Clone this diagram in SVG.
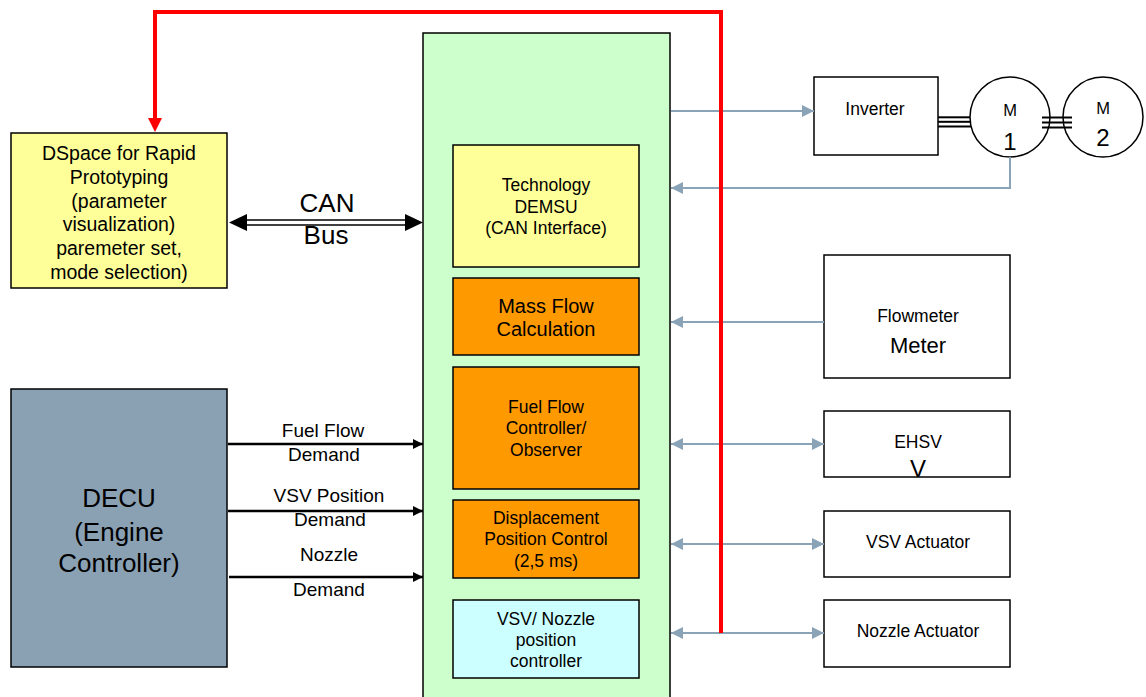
<svg xmlns="http://www.w3.org/2000/svg" width="1146" height="697" viewBox="0 0 1146 697">
<style>
  text { font-family: "Liberation Sans", Arial, sans-serif; fill: #000; text-anchor: middle; }
  .box { stroke: #000; stroke-width: 1.5; }
  .w { fill: #fff; }
  .y { fill: #FFFF99; }
  .o { fill: #FF9900; }
  .c { fill: #CCFFFF; }
  .g { fill: #CCFFCC; }
  .d { fill: #8AA0B3; }
  .gl { stroke: #8BA3B6; stroke-width: 2; fill: none; }
  .bl { stroke: #000; stroke-width: 2.5; fill: none; }
  .red { stroke: #FF0000; stroke-width: 4; fill: none; }
  .s { font-size: 17.5px; }
  .ds { font-size: 19.5px; }
  .lb { font-size: 19px; }
  .big { font-size: 26px; }
</style>
<defs>
  <marker id="ga" viewBox="0 0 12 12" refX="12" refY="6" markerWidth="12" markerHeight="12" markerUnits="userSpaceOnUse" orient="auto-start-reverse">
    <path d="M0,0 L12,6 L0,12 Z" fill="#8BA3B6"/>
  </marker>
  <marker id="ba" viewBox="0 0 10 10" refX="10" refY="5" markerWidth="10" markerHeight="10" markerUnits="userSpaceOnUse" orient="auto">
    <path d="M0,0 L10,5 L0,10 Z" fill="#000"/>
  </marker>
</defs>
<rect width="1146" height="697" fill="#fff"/>

<g id="main-module">
  <rect class="box g" x="423" y="33" width="247" height="680"/>
</g>

<g id="dspace">
  <rect class="box y" x="11" y="133" width="216" height="155"/>
  <text class="ds" x="119" y="160">DSpace for Rapid</text>
  <text class="ds" x="119" y="184">Prototyping</text>
  <text class="ds" x="119" y="208">(parameter</text>
  <text class="ds" x="119" y="231">visualization)</text>
  <text class="ds" x="119" y="255">paremeter set,</text>
  <text class="ds" x="119" y="279">mode selection)</text>
</g>

<g id="decu">
  <rect class="box d" x="11" y="389" width="216" height="278"/>
  <text class="big" x="119" y="507">DECU</text>
  <text class="big" x="119" y="541">(Engine</text>
  <text class="big" x="119" y="572">Controller)</text>
</g>

<g id="technology">
  <rect class="box y" x="453" y="145" width="186" height="122"/>
  <text class="s" x="546" y="191">Technology</text>
  <text class="s" x="546" y="213">DEMSU</text>
  <text class="s" x="546" y="234">(CAN Interface)</text>
</g>

<g id="mass-flow">
  <rect class="box o" x="453" y="278" width="186" height="77"/>
  <text font-size="20" x="546" y="313">Mass Flow</text>
  <text font-size="20" x="546" y="336">Calculation</text>
</g>

<g id="fuel-flow">
  <rect class="box o" x="453" y="367" width="186" height="122"/>
  <text class="s" x="546" y="413">Fuel Flow</text>
  <text class="s" x="546" y="434">Controller/</text>
  <text class="s" x="546" y="456">Observer</text>
</g>

<g id="displacement">
  <rect class="box o" x="453" y="500" width="186" height="78"/>
  <text class="s" x="546" y="524">Displacement</text>
  <text class="s" x="546" y="545">Position Control</text>
  <text class="s" x="546" y="567">(2,5 ms)</text>
</g>

<g id="vsv-nozzle">
  <rect class="box c" x="453" y="600" width="186" height="78"/>
  <text class="s" x="546" y="625">VSV/ Nozzle</text>
  <text class="s" x="546" y="646">position</text>
  <text class="s" x="546" y="667">controller</text>
</g>

<g id="inverter">
  <rect class="box w" x="814" y="77" width="124" height="78"/>
  <text class="s" x="875" y="115">Inverter</text>
</g>

<g id="m1">
  <circle class="box w" cx="1010" cy="117" r="40"/>
  <text font-size="16.5" x="1010" y="116">M</text>
  <text font-size="24" x="1010" y="150">1</text>
</g>

<g id="m2">
  <circle class="box w" cx="1103" cy="117" r="40"/>
  <text font-size="16.5" x="1103" y="114">M</text>
  <text font-size="24" x="1103" y="146">2</text>
</g>

<g id="flowmeter">
  <rect class="box w" x="824" y="255" width="186" height="123"/>
  <text class="s" x="918" y="322">Flowmeter</text>
  <text font-size="22" x="918" y="353">Meter</text>
</g>

<g id="ehsv">
  <rect class="box w" x="824" y="411" width="186" height="66"/>
  <text class="s" x="918" y="448">EHSV</text>
  <text font-size="24" x="918" y="477">V</text>
</g>

<g id="vsv-actuator">
  <rect class="box w" x="824" y="511" width="186" height="66"/>
  <text class="s" x="918" y="548">VSV Actuator</text>
</g>

<g id="nozzle-actuator">
  <rect class="box w" x="824" y="600" width="186" height="67"/>
  <text class="s" x="918" y="637">Nozzle Actuator</text>
</g>

<g id="connectors">
  <line class="gl" x1="671" y1="111" x2="814" y2="111" marker-end="url(#ga)"/>
  <path class="gl" d="M1010,157 V188 H671" marker-end="url(#ga)"/>
  <line class="gl" x1="824" y1="322" x2="671" y2="322" marker-end="url(#ga)"/>
  <line class="gl" x1="671" y1="444" x2="824" y2="444" marker-start="url(#ga)" marker-end="url(#ga)"/>
  <line class="gl" x1="671" y1="544" x2="824" y2="544" marker-start="url(#ga)" marker-end="url(#ga)"/>
  <line class="gl" x1="671" y1="633" x2="824" y2="633" marker-start="url(#ga)" marker-end="url(#ga)"/>

  <g stroke="#000" stroke-width="2">
    <line x1="938" y1="117.3" x2="970" y2="117.3"/>
    <line x1="938" y1="121.8" x2="970" y2="121.8"/>
    <line x1="938" y1="126.5" x2="971" y2="126.5"/>
    <line x1="1042" y1="117.5" x2="1072" y2="117.5"/>
    <line x1="1042" y1="122.5" x2="1072" y2="122.5"/>
    <line x1="1042" y1="127.5" x2="1072" y2="127.5"/>
  </g>

  <path class="red" d="M721,633 V12 H155 V120"/>
  <path d="M148,118 L162,118 L155,132 Z" fill="#FF0000"/>

  <g>
    <line x1="244" y1="220" x2="408" y2="220" stroke="#000" stroke-width="1.6"/>
    <line x1="244" y1="225" x2="408" y2="225" stroke="#000" stroke-width="1.6"/>
    <path d="M229,222.5 L247,214 L247,231 Z" fill="#000"/>
    <path d="M423,222.5 L405,214 L405,231 Z" fill="#000"/>
    <text class="big" x="327" y="212">CAN</text>
    <text class="big" x="326" y="244">Bus</text>
  </g>

  <line class="bl" x1="228" y1="444" x2="423" y2="444" marker-end="url(#ba)"/>
  <line class="bl" x1="228" y1="511" x2="423" y2="511" marker-end="url(#ba)"/>
  <line class="bl" x1="229" y1="577" x2="423" y2="577" marker-end="url(#ba)"/>
  <text class="lb" x="323" y="437">Fuel Flow</text>
  <text class="lb" x="324" y="461">Demand</text>
  <text class="lb" x="329" y="502">VSV Position</text>
  <text class="lb" x="330" y="526">Demand</text>
  <text class="lb" x="329" y="561">Nozzle</text>
  <text class="lb" x="329" y="596">Demand</text>
</g>
</svg>
